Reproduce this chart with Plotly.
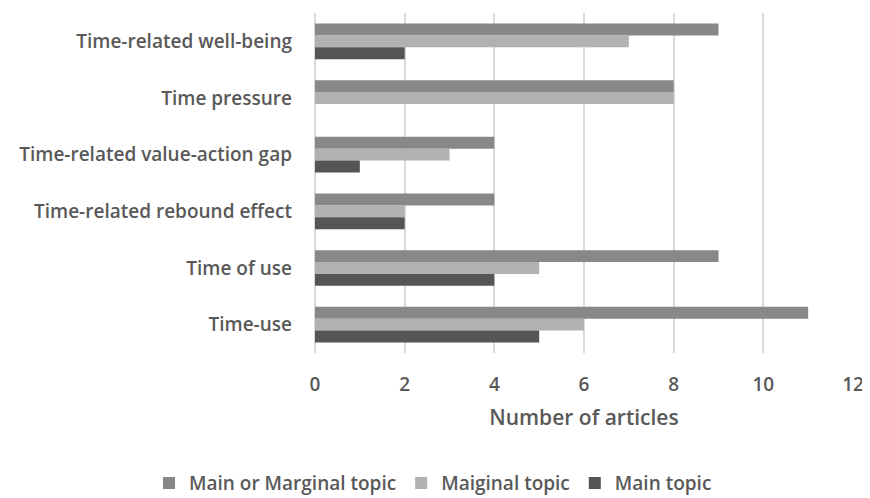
import plotly.graph_objects as go

categories = ["Time-related well-being", "Time pressure", "Time-related value-action gap",
              "Time-related rebound effect", "Time of use", "Time-use"]
main_or_marginal = [9, 8, 4, 4, 9, 11]
marginal = [7, 8, 3, 2, 5, 6]
main = [2, 0, 1, 2, 4, 5]
series_names = ["Main or Marginal topic", "Maiginal topic", "Main topic"]
colors = ["#888888", "#b1b1b1", "#555555"]

fig = go.Figure()
for name, vals, col in zip(series_names, [main_or_marginal, marginal, main], colors):
    fig.add_trace(go.Bar(y=categories, x=vals, name=name, orientation="h",
                         marker=dict(color=col, line=dict(width=0))))

font_col = "#595959"
fig.update_layout(
    width=862, height=502,
    margin=dict(l=307, r=17, t=5, b=157),
    plot_bgcolor="white", paper_bgcolor="white",
    barmode="group", bargap=0.37, bargroupgap=0,
    font=dict(family="Open Sans", color=font_col, size=18),
    xaxis=dict(range=[0, 12], dtick=2, showgrid=True, gridcolor="#d9d9d9", gridwidth=2,
               zeroline=True, zerolinecolor="#d9d9d9", zerolinewidth=2,
               tickfont=dict(size=19, color=font_col, weight=600),
               ticks="", ticklabelstandoff=18, automargin=False,
               title=dict(text="Number of articles", standoff=14,
                          font=dict(size=21, color=font_col, weight=600))),
    yaxis=dict(autorange="reversed", showgrid=False, ticks="", automargin=False,
               ticklabelstandoff=22,
               tickfont=dict(size=19, color=font_col, weight=600)),
    legend=dict(orientation="h", x=-0.3085, xanchor="left", y=-0.383, yanchor="middle",
                font=dict(size=19, color=font_col, weight=600),
                itemwidth=30, tracegroupgap=0),
    showlegend=True,
)
fig.write_html("out.html")
